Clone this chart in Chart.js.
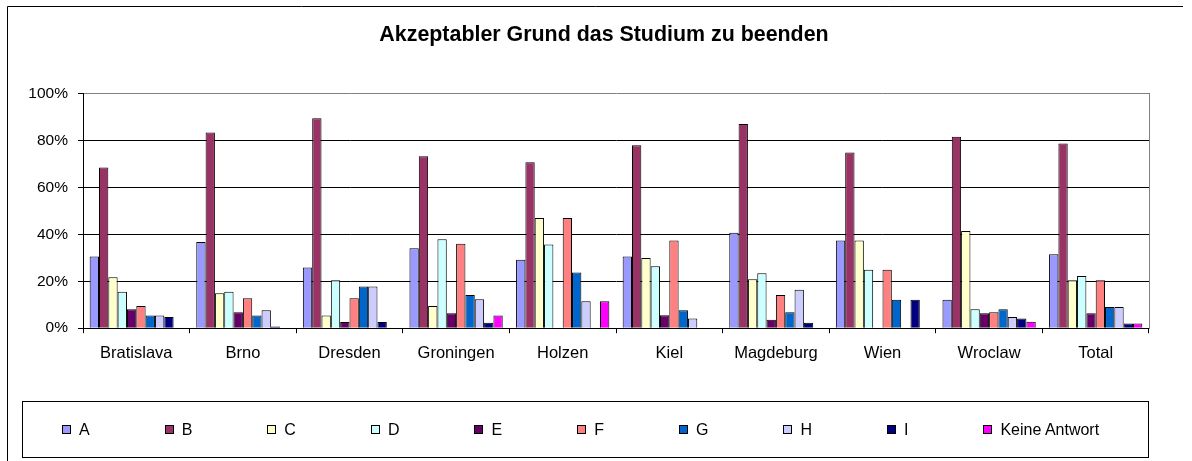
<!DOCTYPE html>
<html>
<head>
<meta charset="utf-8">
<script src="https://cdn.jsdelivr.net/npm/chart.js@4"></script>
<style>
body{margin:0;background:#fff}
#wrap{position:relative;width:1192px;height:461px;overflow:hidden}
#legend{position:absolute;left:22px;top:401px;width:1127px;height:57px;box-sizing:border-box;border:1px solid #000;
display:flex;align-items:center;padding-left:39px;gap:75px;
font-family:'Liberation Sans',Arial,sans-serif;font-size:16px;color:#000;white-space:nowrap}
#legend .item{display:flex;align-items:center}
#legend .box{width:9px;height:9px;box-sizing:border-box;border:1px solid #000;margin-right:8px}
</style>
</head>
<body>
<div id="wrap">
<canvas id="chart" width="1192" height="461"></canvas>
<div id="legend"></div>
</div>
<script>
const cities = ["Bratislava","Brno","Dresden","Groningen","Holzen","Kiel","Magdeburg","Wien","Wroclaw","Total"]
const seriesNames = ["A","B","C","D","E","F","G","H","I","Keine Antwort"]
const seriesColors = ["#9999FF","#993366","#FFFFCC","#CCFFFF","#660066","#FF8080","#0066CC","#CCCCFF","#000080","#FF00FF"]

const valA = [30.6,36.8,25.9,34.1,29.2,30.6,40.7,37.4,12.2,31.6]
const valB = [68.6,83.6,89.6,73.4,70.8,78.1,87.2,75.0,81.7,78.9]
const valC = [21.8,14.9,5.4,9.5,47.1,30.0,20.9,37.4,41.5,20.5]
const valD = [15.6,15.6,20.5,38.0,35.7,26.5,23.5,25.0,8.1,22.3]
const valE = [8.1,6.8,2.6,6.4,0,5.5,3.6,0,6.4,6.4]
const valF = [9.5,12.8,12.8,36.1,47.1,37.4,14.2,25.0,6.8,20.5]
const valG = [5.4,5.4,17.8,14.2,23.8,7.7,6.8,12.2,8.1,9.0]
const valH = [5.4,7.7,17.8,12.4,11.5,4.1,16.4,0,4.8,9.0]
const valI = [4.8,0.7,2.6,2.3,0,0,2.3,12.2,4.1,2.0]
const valKeine = [0,0,0,5.4,11.5,0,0,0,2.8,2.0]

const yTicks = [0,20,40,60,80,100]

const allValues = [valA,valB,valC,valD,valE,valF,valG,valH,valI,valKeine]

const FONT = "'Liberation Sans', Arial, sans-serif"

// thin frame round the whole chart (top and left edge are visible)
const framePlugin = {
id:"frame",
afterDraw(chart){
const ctx = chart.ctx
ctx.save()
ctx.strokeStyle = "#000"
ctx.lineWidth = 1
ctx.beginPath()
ctx.moveTo(7.5,470)
ctx.lineTo(7.5,6.5)
ctx.lineTo(1183,6.5)
ctx.stroke()
ctx.restore()
}
}

// legend as html, built from the chart's datasets
const htmlLegend = {
id:"htmlLegend",
afterUpdate(chart){
const box = document.getElementById("legend")
box.innerHTML = ""
chart.data.datasets.forEach(ds=>{
const item = document.createElement("span")
item.className = "item"
const sw = document.createElement("span")
sw.className = "box"
sw.style.background = ds.backgroundColor
item.appendChild(sw)
item.appendChild(document.createTextNode(ds.label))
box.appendChild(item)
})
}
}

new Chart(document.getElementById("chart"),{
type:"bar",
data:{
labels:cities,
datasets:seriesNames.map((name,i)=>({
label:name,
data:allValues[i],
backgroundColor:seriesColors[i],
borderColor:"#000",
borderWidth:1,
categoryPercentage:0.875,
barPercentage:1
}))
},
options:{
responsive:false,
animation:false,
layout:{padding:{left:16,right:0,top:0,bottom:88}},
plugins:{
title:{
display:true,
text:"Akzeptabler Grund das Studium zu beenden",
color:"#000",
font:{family:FONT,size:21.4,weight:"bold",lineHeight:1.2},
padding:{top:22.5,bottom:45.8}
},
legend:{display:false},
tooltip:{enabled:false}
},
scales:{
x:{
grid:{display:true,drawOnChartArea:false,drawTicks:true,tickLength:5,color:"#000",offset:true},
border:{display:true,color:"#000"},
ticks:{color:"#000",padding:10,font:{family:FONT,size:16.5},maxRotation:0}
},
y:{
min:0,
max:100,
afterBuildTicks(s){s.ticks=yTicks.map(v=>({value:v}))},
grid:{
color:c=>c.tick && c.tick.value===100 ? "#808080" : "#000",
tickColor:"#000",
tickLength:5
},
border:{display:true,color:"#000"},
ticks:{color:"#000",padding:10,font:{family:FONT,size:15.5},callback:v=>v+"%"},
afterFit(s){s.width=67}
},
yr:{
type:"linear",
position:"right",
display:true,
grid:{display:false,drawTicks:false},
ticks:{display:false},
border:{display:true,color:"#808080"},
afterFit(s){s.width=43}
}
}
},
plugins:[framePlugin,htmlLegend]
})
</script>
</body>
</html>
